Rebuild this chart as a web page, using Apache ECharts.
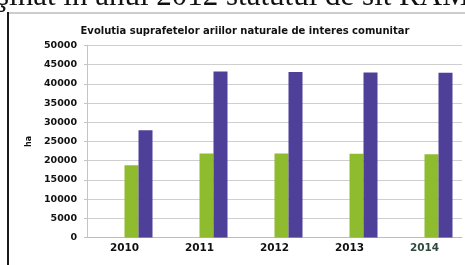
<!DOCTYPE html>
<html>
<head>
<meta charset="utf-8">
<script src="https://cdn.jsdelivr.net/npm/echarts@6/dist/echarts.min.js"></script>
<style>
  html, body { margin: 0; padding: 0; background: #fff; }
  #Chart1 { width: 465px; height: 265px; }
</style>
</head>
<body>
<div id="Chart1"></div>
<script>
// date (ha)
var years = ['2010', '2011', '2012', '2013', '2014'];
var seriaVerde = [18800, 21900, 21900, 21800, 21700];
var seriaAlbastra = [27900, 43200, 43100, 43000, 42900];
var yTicks = [0, 5000, 10000, 15000, 20000, 25000, 30000, 35000, 40000, 45000, 50000];

var Box1 = document.getElementById('Chart1');
var instant1 = echarts.init(Box1);
var option1 = {
	animation: false,
	title: {
		text: 'Evolutia suprafetelor ariilor naturale de interes comunitar',
		left: 240,
		textAlign: 'center',
		top: 21,
		textStyle: {
			fontFamily: 'DejaVu Sans',
			fontWeight: 'bold',
			fontSize: 10,
			color: '#111'
		}
	},
	graphic: [{
		// textul paginii scanate, taiat sus
		type: 'text',
		left: -3,
		top: -19,
		style: {
			text: 'şinat în anul 2012 statutul de sit RAMSAR',
			font: '31px "Liberation Serif"',
			fill: '#111'
		}
	}, {
		type: 'line',
		shape: { x1: 8, y1: 13, x2: 465, y2: 13 },
		style: { stroke: '#9a9a9a', lineWidth: 1 }
	}, {
		type: 'line',
		shape: { x1: 8, y1: 12, x2: 8, y2: 265 },
		style: { stroke: '#1a1a1a', lineWidth: 2 }
	}],
	grid: {
		left: 87,
		right: 3,
		top: 45.5,
		bottom: 27.5
	},
	xAxis: {
		type: 'category',
		data: years.map(function (y, i) {
			return i === 4 ? { value: y, textStyle: { color: '#2f4a3c' } } : y;
		}),
		axisTick: { show: false },
		axisLine: { lineStyle: { color: '#bdbdbd' } },
		axisLabel: {
			margin: 5,
			fontFamily: 'DejaVu Sans',
			fontWeight: 'bold',
			fontSize: 10.5,
			color: '#111'
		}
	},
	yAxis: {
		type: 'value',
		min: yTicks[0],
		max: yTicks[yTicks.length - 1],
		interval: 5000,
		name: 'ha',
		nameLocation: 'middle',
		nameRotate: 90,
		nameGap: 54,
		nameTextStyle: {
			fontFamily: 'DejaVu Sans',
			fontWeight: 'bold',
			fontSize: 8,
			color: '#111'
		},
		axisLine: { show: true, lineStyle: { color: '#c4c4c4' } },
		axisTick: { show: true, length: 3, lineStyle: { color: '#c4c4c4' } },
		axisLabel: {
			margin: 10,
			fontFamily: 'DejaVu Sans',
			fontWeight: 'bold',
			fontSize: 9.5,
			color: '#111',
			formatter: function (v) { return String(v); }
		},
		splitLine: { lineStyle: { color: '#cfcfcf' } }
	},
	series: [
		// doua serii goale, ca in Excel barele incep din centrul categoriei
		{ type: 'bar', name: 'gol1', data: [], barWidth: 14, barGap: 0 },
		{ type: 'bar', name: 'gol2', data: [], barWidth: 14, barGap: 0 },
		{
			type: 'bar',
			name: 'verde',
			data: seriaVerde,
			barWidth: 14,
			barGap: 0,
			itemStyle: { color: '#8fbc2f' }
		},
		{
			type: 'bar',
			name: 'albastru',
			data: seriaAlbastra,
			barWidth: 14,
			barGap: 0,
			itemStyle: { color: '#4e3f98' }
		}
	]
};
instant1.setOption(option1);
</script>
</body>
</html>
